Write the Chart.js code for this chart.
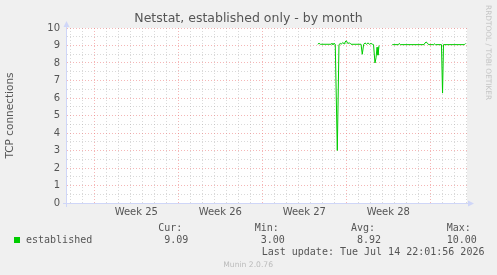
<!DOCTYPE html>
<html>
<head>
<meta charset="utf-8">
<script src="https://cdn.jsdelivr.net/npm/chart.js@4.4.1/dist/chart.umd.min.js"></script>
<style>
  html, body { margin: 0; padding: 0; background: #f0f0f0; }
  #wrap { position: relative; width: 497px; height: 275px; overflow: hidden; }
  #chart { position: absolute; left: 0; top: 0; }
  .txt { position: absolute; white-space: pre; line-height: 1; color: #555; }
  .mono { font-family: 'DejaVu Sans Mono', monospace; font-size: 10px; }
</style>
</head>
<body>
<div id="wrap">
  <canvas id="chart" width="497" height="275"></canvas>
</div>
<script>
// x values are days since Monday of week 25
const weekLabels = ['Week 25', 'Week 26', 'Week 27', 'Week 28'];
const weekStartDay = [0, 7, 14, 21];

const dayX = [
  18.62, 18.73, 18.83, 19.72, 19.81, 19.89, 19.98, 20.08, 20.25, 20.39,
  20.5, 20.58, 20.7, 20.81, 20.89, 21.0, 21.12, 21.28, 21.39, 22.23,
  22.33, 22.45, 22.56, 22.68, 22.81, 22.93, 23.06, 23.18, 23.27, 23.39,
  23.48, 23.56, 23.64, 23.73, 24.2,
  24.83, 25.35, 25.42, 25.5, 27.48, 27.56, 27.67, 27.78, 27.89, 28.27,
  28.33, 28.42, 28.93, 29.02, 29.1, 30.85, 30.93
];
const established = [
  9.07, 9.13, 9.07, 9.07, 9.12, 9.05, 9.12, 9.07, 3.0, 9.05,
  9.12, 9.07, 9.17, 9.1, 9.2, 9.27, 9.12, 9.15, 9.07, 9.07,
  8.5, 9.07, 9.15, 9.07, 9.15, 9.07, 9.12, 9.07, 9.05, 8.0,
  8.3, 8.9, 8.45, 9.0, null,
  9.05, 9.05, 9.12, 9.05, 9.05, 9.15, 9.2, 9.1, 9.05, 9.05,
  9.1, 9.05, 9.05, 6.28, 9.05, 9.05, 9.12
];

const seriesName = 'established';
const statNames = ['Cur:', 'Min:', 'Avg:', 'Max:'];
const statValues = ['9.09', '3.00', '8.92', '10.00'];
const lastUpdate = 'Last update: Tue Jul 14 22:01:56 2026';

const xMin = -2.275;
const xMax = xMin + 400 / 12;
const FONT = "'DejaVu Sans', sans-serif";
const RED = 'rgba(235,110,110,0.5)';
const GRAY = 'rgba(170,170,170,0.45)';
const AXIS = '#cfd6f8';

const muninDeco = {
  id: 'muninDeco',
  beforeDraw(chart) {
    const { ctx, chartArea: a } = chart;
    ctx.save();
    ctx.fillStyle = '#ffffff';
    ctx.fillRect(a.left, a.top, a.right - a.left, a.bottom - a.top);
    ctx.restore();
  },
  afterDraw(chart) {
    const { ctx, chartArea: a } = chart;
    const lx = a.left - 0.5, by = a.bottom + 0.5;
    ctx.save();
    ctx.strokeStyle = AXIS;
    ctx.fillStyle = AXIS;
    ctx.lineWidth = 1;
    ctx.beginPath();
    ctx.moveTo(lx, a.bottom + 4);
    ctx.lineTo(lx, a.top - 2);
    ctx.moveTo(a.left - 4, by);
    ctx.lineTo(a.right + 2, by);
    ctx.stroke();
    ctx.beginPath();
    ctx.moveTo(lx, a.top - 7);
    ctx.lineTo(lx - 3, a.top - 1);
    ctx.lineTo(lx + 3, a.top - 1);
    ctx.closePath();
    ctx.fill();
    ctx.beginPath();
    ctx.moveTo(a.right + 7, by);
    ctx.lineTo(a.right + 1, by - 3);
    ctx.lineTo(a.right + 1, by + 3);
    ctx.closePath();
    ctx.fill();
    ctx.restore();
  }
};

new Chart(document.getElementById('chart').getContext('2d'), {
  type: 'line',
  data: {
    datasets: [{
      label: seriesName,
      data: dayX.map((d, i) => ({ x: d, y: established[i] })),
      borderColor: '#00cc00',
      borderWidth: 1,
      pointRadius: 0,
      tension: 0,
      spanGaps: false,
      fill: false
    }]
  },
  options: {
    responsive: false,
    animation: false,
    devicePixelRatio: 1,
    layout: { padding: { top: 28, right: 30, bottom: 52, left: 0 } },
    plugins: { legend: { display: false }, tooltip: { enabled: false } },
    scales: {
      x: {
        type: 'linear',
        min: xMin,
        max: xMax,
        afterBuildTicks(scale) {
          const t = [];
          for (let d = Math.ceil(xMin); d <= Math.floor(xMax); d++) t.push({ value: d });
          weekStartDay.forEach(w => t.push({ value: w + 3.5 }));
          t.sort((p, q) => p.value - q.value);
          scale.ticks = t;
        },
        afterFit(scale) { scale.height = 20; },
        ticks: {
          autoSkip: false,
          maxRotation: 0,
          padding: 3,
          color: '#555',
          font: { family: FONT, size: 10 },
          callback(v) {
            const i = weekStartDay.findIndex(w => Math.abs(w + 3.5 - v) < 1e-6);
            return i >= 0 ? weekLabels[i] : '';
          }
        },
        grid: {
          drawTicks: false,
          color(ctx) {
            const v = ctx.tick ? ctx.tick.value : 0.5;
            if (!Number.isInteger(v)) return 'rgba(0,0,0,0)';
            return v % 7 === 0 ? RED : GRAY;
          }
        },
        border: { display: false, dash: [1, 2] }
      },
      y: {
        min: 0,
        max: 10,
        afterBuildTicks(scale) {
          const t = [];
          for (let i = 0; i <= 20; i++) t.push({ value: i / 2 });
          scale.ticks = t;
        },
        afterFit(scale) { scale.width = 67; },
        ticks: {
          autoSkip: false,
          padding: 7,
          color: '#555',
          font: { family: FONT, size: 10 },
          callback: v => Number.isInteger(v) ? String(v) : ''
        },
        grid: {
          drawTicks: false,
          color(ctx) {
            const v = ctx.tick ? ctx.tick.value : 0.5;
            return Number.isInteger(v) ? RED : GRAY;
          }
        },
        border: { display: false, dash: [1, 2] },
        title: {
          display: true,
          text: 'TCP connections',
          color: '#555',
          font: { family: FONT, size: 10.5 },
          padding: { top: 4, bottom: 4 }
        }
      }
    }
  },
  plugins: [muninDeco]
});

// texts around the graph
const wrap = document.getElementById('wrap');
function addText(text, left, top, cls, style) {
  const d = document.createElement('div');
  d.className = 'txt ' + (cls || '');
  d.textContent = text;
  d.style.left = left + 'px';
  d.style.top = top + 'px';
  Object.assign(d.style, style || {});
  wrap.appendChild(d);
  return d;
}

addText('Netstat, established only - by month', 0, 12, '', {
  width: '497px', textAlign: 'center', fontFamily: FONT, fontSize: '12.5px'
});
addText('RRDTOOL / TOBI OETIKER', 491.5, 5, '', {
  fontFamily: FONT, fontSize: '7.4px', color: '#c4c4c4',
  transformOrigin: 'left top', transform: 'rotate(90deg)'
});

const sq = document.createElement('div');
Object.assign(sq.style, { position: 'absolute', left: '14px', top: '237px', width: '6px', height: '6px', background: '#00cc00' });
wrap.appendChild(sq);
addText(seriesName, 26, 234.5, 'mono');

const statLeft = [158.3, 254.7, 351, 446.7];
statNames.forEach((n, i) => {
  addText(n, statLeft[i], 223, 'mono');
  const v = statValues[i];
  addText(v, statLeft[i] + (v.length > 4 ? 0 : 6), 234.5, 'mono');
});
addText(lastUpdate, 261.7, 246.8, 'mono');
addText('Munin 2.0.76', 223.3, 261, '', { fontFamily: FONT, fontSize: '7.6px', color: '#bbb' });
</script>
</body>
</html>
